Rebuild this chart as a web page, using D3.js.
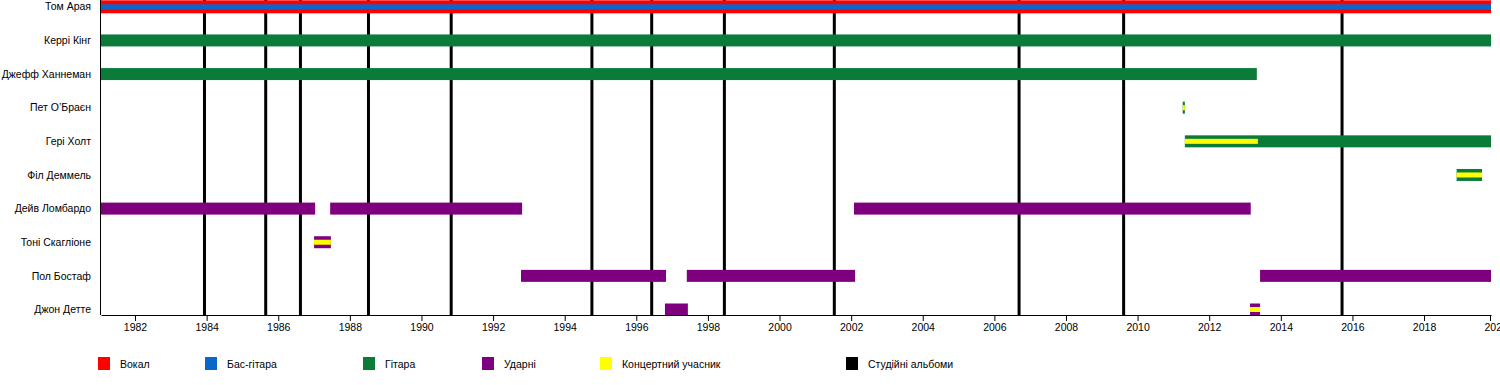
<!DOCTYPE html>
<html>
<head>
<meta charset="utf-8">
<script src="https://cdn.jsdelivr.net/npm/d3@7"></script>
<style>
  body { margin: 0; background: #fff; }
  svg { display: block; font-family: "Liberation Sans", Arial, sans-serif; }
</style>
</head>
<body>
<svg id="chart" width="1500" height="385"></svg>
<script>
// ## DATA ##
const members = ["Том Арая", "Керрі Кінг", "Джефф Ханнеман", "Пет О’Браєн", "Гері Холт",
  "Філ Деммель", "Дейв Ломбардо", "Тоні Скагліоне", "Пол Бостаф", "Джон Детте"]
const startYear = 1981.05
const endYear = 2019.87
const yearTicks = [1982, 1984, 1986, 1988, 1990, 1992, 1994, 1996, 1998, 2000, 2002,
  2004, 2006, 2008, 2010, 2012, 2014, 2016, 2018, 2020]
// studio albums
const albums = [1983.94, 1985.65, 1986.62, 1988.52, 1990.83, 1994.76, 1996.43, 1998.46,
  2001.53, 2006.69, 2009.61, 2015.71]

// [member, from, to]
const vocals = [["Том Арая", startYear, endYear]]
const bass = [["Том Арая", startYear, endYear]]
const guitar = [
  ["Керрі Кінг", startYear, endYear],
  ["Джефф Ханнеман", startYear, 2013.33],
  ["Пет О’Браєн", 2011.26, 2011.32],
  ["Гері Холт", 2011.32, endYear],
  ["Філ Деммель", 2018.91, 2019.62]
]
const drums = [
  ["Дейв Ломбардо", startYear, 1987.03],
  ["Дейв Ломбардо", 1987.45, 1992.81],
  ["Дейв Ломбардо", 2002.08, 2013.16],
  ["Тоні Скагліоне", 1987.0, 1987.47],
  ["Пол Бостаф", 1992.78, 1996.83],
  ["Пол Бостаф", 1997.41, 2002.11],
  ["Пол Бостаф", 2013.42, endYear],
  ["Джон Детте", 1996.8, 1997.44],
  ["Джон Детте", 2013.14, 2013.42]
]
const live = [
  ["Пет О’Браєн", 2011.26, 2011.32],
  ["Гері Холт", 2011.32, 2013.36],
  ["Філ Деммель", 2018.91, 2019.62],
  ["Тоні Скагліоне", 1987.0, 1987.47],
  ["Джон Детте", 2013.14, 2013.42]
]
const legendLabels = ["Вокал", "Бас-гітара", "Гітара", "Ударні", "Концертний учасник", "Студійні альбоми"]

// ## STYLE ##
const colors = {
  vocals: "#ff0000", bass: "#0b66cc", guitar: "#0b7b3a",
  drums: "#7f007f", live: "#ffff00", album: "#000000"
}
const legendColors = [colors.vocals, colors.bass, colors.guitar, colors.drums, colors.live, colors.album]
const legendX = [98, 205, 363, 482, 600, 846]

const plotLeft = 101, plotRight = 1491, axisY = 315
const barH = 12, innerH = 5
const fontSize = 10.5

const svg = d3.select("#chart")

const x = d3.scaleLinear().domain([startYear, endYear]).range([plotLeft, plotRight])
const y = d3.scalePoint().domain(members).range([6.8, 309.5])

// album lines (behind bars)
svg.append("g")
  .selectAll("line")
  .data(albums)
  .enter().append("line")
  .attr("x1", d => x(d)).attr("x2", d => x(d))
  .attr("y1", 0).attr("y2", axisY)
  .attr("stroke", colors.album)
  .attr("stroke-width", 3)

// left frame
svg.append("line")
  .attr("x1", plotLeft - 0.5).attr("x2", plotLeft - 0.5)
  .attr("y1", 0).attr("y2", axisY)
  .attr("stroke", "#000")

const drawBars = (rows, color, h) => {
  svg.append("g")
    .selectAll("rect")
    .data(rows)
    .enter().append("rect")
    .attr("x", d => x(d[1]))
    .attr("width", d => Math.max(1, x(d[2]) - x(d[1])))
    .attr("y", d => y(d[0]) - h / 2)
    .attr("height", h)
    .attr("fill", color)
}

drawBars(vocals, colors.vocals, 13)
drawBars(guitar, colors.guitar, barH)
drawBars(drums, colors.drums, barH)
drawBars(bass, colors.bass, innerH)
drawBars(live, colors.live, innerH)

// member names
svg.append("g")
  .selectAll("text")
  .data(members)
  .enter().append("text")
  .attr("x", 91)
  .attr("y", d => y(d))
  .attr("dy", "0.35em")
  .attr("text-anchor", "end")
  .attr("font-size", fontSize)
  .text(d => d)

// ## AXIS ##
const axis = svg.append("g")
  .attr("transform", `translate(0,${axisY})`)
  .call(d3.axisBottom(x)
    .tickValues(yearTicks)
    .tickFormat(d3.format("d"))
    .tickSize(6)
    .tickSizeOuter(0)
    .tickPadding(3))
axis.selectAll("text").attr("font-size", fontSize).attr("font-family", "Liberation Sans, Arial, sans-serif")
axis.select(".domain").attr("stroke", "#000")
axis.append("line")
  .attr("x1", plotRight - 0.5).attr("x2", plotRight - 0.5)
  .attr("y1", 0).attr("y2", 6)
  .attr("stroke", "#000")
axis.selectAll(".tick").filter(d => d > endYear).select("line").remove()

// ## LEGEND ##
const legend = svg.append("g")
  .selectAll("g")
  .data(legendLabels)
  .enter().append("g")
  .attr("transform", (d, i) => `translate(${legendX[i]},357)`)
legend.append("rect")
  .attr("width", 12).attr("height", 13)
  .attr("fill", (d, i) => legendColors[i])
legend.append("text")
  .attr("x", 22).attr("y", 7)
  .attr("dy", "0.35em")
  .attr("font-size", fontSize)
  .text(d => d)
</script>
</body>
</html>
